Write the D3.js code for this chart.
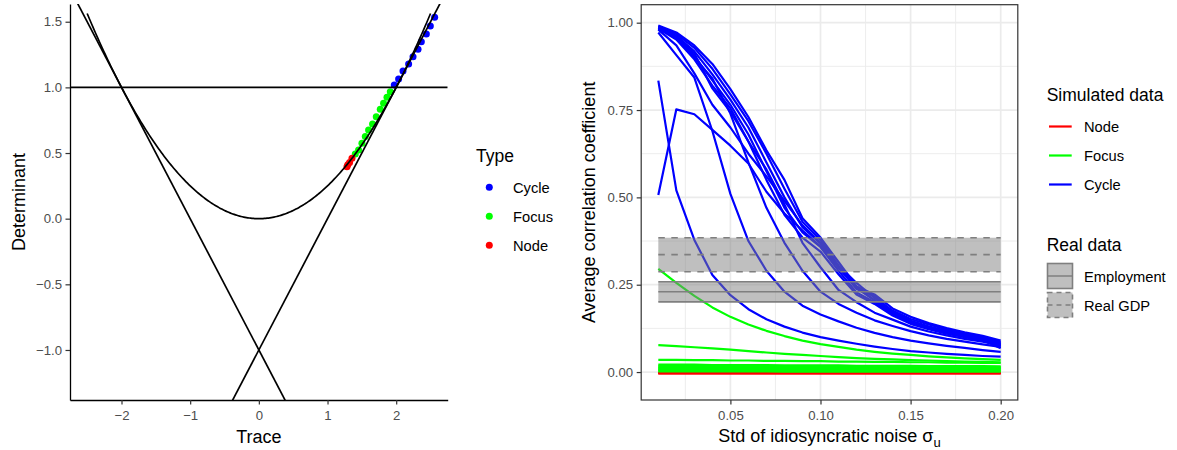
<!DOCTYPE html>
<html><head><meta charset="utf-8">
<script src="https://cdn.jsdelivr.net/npm/d3@7"></script>
<style>
body{margin:0;background:#fff}
svg{display:block}
text{font-family:"Liberation Sans",Arial,Helvetica,sans-serif}
</style>
</head><body>
<svg id="c" width="1177" height="450"></svg>
<script>
// ---------- DATA: left panel ----------
const traceTicks = [-2, -1, 0, 1, 2];
const detTicks = [-1.0, -0.5, 0.0, 0.5, 1.0, 1.5];
const typeLevels = ["Cycle", "Focus", "Node"];
const typeColors = ["#0000FF", "#00FF00", "#FF0000"];
const pointTrace = [2.56, 2.497, 2.439, 2.366, 2.318, 2.245, 2.181, 2.099, 2.035, 1.972,
                    1.914, 1.866, 1.816, 1.768, 1.710, 1.656, 1.598, 1.550, 1.501, 1.452, 1.404,
                    1.356, 1.321, 1.295, 1.283];
const pointDet = [1.534, 1.468, 1.407, 1.348, 1.29, 1.234, 1.178, 1.125, 1.064, 1.018,
                  0.967, 0.924, 0.879, 0.833, 0.777, 0.721, 0.676, 0.625, 0.574, 0.523, 0.493,
                  0.46, 0.427, 0.41, 0.396];
const pointType = ["Cycle","Cycle","Cycle","Cycle","Cycle","Cycle","Cycle","Cycle","Cycle","Cycle",
                   "Focus","Focus","Focus","Focus","Focus","Focus","Focus","Focus","Focus","Focus","Focus",
                   "Node","Node","Node","Node"];
// boundary lines det = slope*trace + intercept
const boundarySlopes = [1, -1, 0];
const boundaryIntercepts = [-1, -1, 1];
const parabolaRange = [-2.5, 2.5];

// ---------- DATA: right panel ----------
const sigmaU = [0.01,0.02,0.03,0.04,0.05,0.06,0.07,0.08,0.09,0.10,0.11,0.12,0.13,0.14,0.15,0.16,0.17,0.18,0.19,0.20];
const xTicksR = [0.05, 0.10, 0.15, 0.20];
const yTicksR = [0.00, 0.25, 0.50, 0.75, 1.00];
const simLevels = ["Node", "Focus", "Cycle"];
const simColors = ["#FF0000", "#00FF00", "#0000FF"];
const nodeLines = [
  [-0.004,-0.004,-0.004,-0.004,-0.004,-0.004,-0.004,-0.004,-0.004,-0.004,-0.004,-0.004,-0.004,-0.004,-0.004,-0.004,-0.004,-0.004,-0.004,-0.004],
  [-0.003,-0.003,-0.003,-0.003,-0.003,-0.003,-0.003,-0.003,-0.003,-0.003,-0.003,-0.003,-0.003,-0.003,-0.003,-0.003,-0.003,-0.003,-0.003,-0.003],
  [-0.002,-0.002,-0.002,-0.002,-0.002,-0.002,-0.002,-0.002,-0.002,-0.002,-0.002,-0.002,-0.002,-0.002,-0.002,-0.002,-0.002,-0.002,-0.002,-0.002],
  [-0.0035,-0.0035,-0.0035,-0.0035,-0.0035,-0.0035,-0.0035,-0.0035,-0.0035,-0.0035,-0.0035,-0.0035,-0.0035,-0.0035,-0.0035,-0.0035,-0.0035,-0.0035,-0.0035,-0.0035]
];
const focusLines = [
  [0.295,0.255,0.218,0.185,0.158,0.136,0.118,0.103,0.090,0.080,0.072,0.064,0.058,0.053,0.049,0.045,0.042,0.039,0.037,0.035],
  [0.077,0.074,0.071,0.068,0.064,0.060,0.056,0.052,0.049,0.046,0.043,0.040,0.038,0.036,0.034,0.033,0.031,0.030,0.029,0.028],
  [0.035,0.035,0.034,0.034,0.033,0.033,0.032,0.032,0.031,0.031,0.030,0.030,0.029,0.029,0.028,0.028,0.027,0.027,0.026,0.026],
  [0.021,0.021,0.021,0.020,0.020,0.020,0.020,0.019,0.019,0.019,0.019,0.018,0.018,0.018,0.018,0.017,0.017,0.017,0.017,0.016],
  [0.018,0.018,0.018,0.017,0.017,0.017,0.016,0.016,0.016,0.016,0.015,0.015,0.015,0.015,0.015,0.014,0.014,0.014,0.014,0.014],
  [0.015,0.015,0.015,0.014,0.014,0.014,0.014,0.013,0.013,0.013,0.013,0.013,0.013,0.012,0.012,0.012,0.012,0.012,0.012,0.012],
  [0.012,0.012,0.012,0.011,0.011,0.011,0.011,0.011,0.011,0.011,0.010,0.010,0.010,0.010,0.010,0.010,0.010,0.010,0.010,0.010],
  [0.009,0.009,0.009,0.009,0.009,0.009,0.008,0.008,0.008,0.008,0.008,0.008,0.008,0.008,0.008,0.008,0.008,0.008,0.008,0.008],
  [0.006,0.006,0.006,0.006,0.006,0.006,0.006,0.005,0.005,0.005,0.005,0.005,0.005,0.005,0.005,0.005,0.005,0.005,0.005,0.005],
  [0.004,0.004,0.004,0.004,0.004,0.004,0.004,0.003,0.003,0.003,0.003,0.003,0.003,0.003,0.003,0.003,0.003,0.003,0.003,0.003],
  [0.002,0.002,0.002,0.002,0.002,0.002,0.002,0.001,0.001,0.001,0.001,0.001,0.001,0.001,0.001,0.001,0.001,0.001,0.001,0.001]
];
const cycleLines = [
  [0.992,0.972,0.935,0.882,0.810,0.730,0.635,0.550,0.440,0.385,0.315,0.245,0.222,0.182,0.158,0.140,0.126,0.114,0.104,0.090],
  [0.990,0.968,0.928,0.868,0.795,0.718,0.625,0.525,0.430,0.378,0.305,0.255,0.212,0.176,0.152,0.136,0.122,0.110,0.100,0.086],
  [0.988,0.963,0.918,0.852,0.780,0.700,0.600,0.500,0.415,0.368,0.300,0.238,0.218,0.172,0.147,0.131,0.118,0.107,0.097,0.082],
  [0.985,0.958,0.905,0.835,0.765,0.680,0.575,0.470,0.400,0.358,0.290,0.228,0.200,0.166,0.143,0.127,0.114,0.103,0.094,0.078],
  [0.983,0.952,0.895,0.820,0.755,0.660,0.550,0.450,0.385,0.345,0.280,0.222,0.195,0.162,0.138,0.123,0.110,0.100,0.090,0.074],
  [0.980,0.935,0.855,0.765,0.700,0.625,0.560,0.490,0.420,0.370,0.300,0.240,0.205,0.170,0.145,0.128,0.114,0.102,0.092,0.068],
  [0.507,0.752,0.738,0.693,0.648,0.597,0.516,0.454,0.405,0.360,0.300,0.245,0.205,0.170,0.145,0.128,0.114,0.103,0.093,0.080],
  [0.834,0.520,0.378,0.278,0.220,0.180,0.151,0.130,0.113,0.100,0.090,0.081,0.073,0.066,0.060,0.056,0.052,0.049,0.046,0.044],
  [0.972,0.907,0.843,0.690,0.510,0.375,0.290,0.230,0.190,0.165,0.145,0.127,0.112,0.100,0.090,0.082,0.075,0.069,0.063,0.058],
  [0.985,0.955,0.900,0.840,0.740,0.600,0.470,0.370,0.290,0.230,0.195,0.170,0.148,0.132,0.117,0.105,0.095,0.087,0.079,0.072],
  [0.985,0.960,0.912,0.812,0.745,0.660,0.580,0.480,0.370,0.300,0.235,0.200,0.170,0.150,0.130,0.116,0.105,0.095,0.087,0.076]
];
const realLevels = ["Employment", "Real GDP"];
const employmentBand = [0.201, 0.230, 0.2585];   // lower, centre, upper
const gdpBand = [0.287, 0.336, 0.3845];
const bandRange = [0.01, 0.20];

// ---------- DRAW ----------
const svg = d3.select("#c");
const defs = svg.append("defs");
const FONT_TICK = 13.2, FONT_TITLE = 18, FONT_LEG = 14.7, FONT_LEGT = 17.5;

function styleAxis(g) {
  g.selectAll(".tick line").attr("stroke", "#333333").attr("stroke-width", 1.2);
  g.selectAll(".tick text").attr("fill", "#4D4D4D").style("font-size", FONT_TICK + "px")
    .style("font-family", '"Liberation Sans",Arial,sans-serif');
}

// ===== Left panel =====
const xL = d3.scaleLinear().domain([-2.75, 2.75]).range([70, 447.7]);
const yL = d3.scaleLinear().domain([-1.381, 1.635]).range([400, 4]);
defs.append("clipPath").attr("id", "clipL").append("rect")
  .attr("x", xL.range()[0]).attr("y", yL.range()[1])
  .attr("width", xL.range()[1] - xL.range()[0]).attr("height", yL.range()[0] - yL.range()[1]);
const gL = svg.append("g");
const plotL = gL.append("g").attr("clip-path", "url(#clipL)");

const colorType = d3.scaleOrdinal().domain(typeLevels).range(typeColors);
const pts = pointTrace.map((t, i) => ({t, d: pointDet[i], type: pointType[i]}));
plotL.selectAll("circle.pt").data(pts).join("circle").attr("class", "pt")
  .attr("cx", d => xL(d.t)).attr("cy", d => yL(d.d)).attr("r", 3.5)
  .attr("fill", d => colorType(d.type));

// parabola det = trace^2/4
const parT = d3.range(parabolaRange[0], parabolaRange[1] + 1e-9, 0.02);
plotL.append("path").datum(parT)
  .attr("d", d3.line().x(t => xL(t)).y(t => yL(t * t / 4)))
  .attr("fill", "none").attr("stroke", "#000").attr("stroke-width", 1.7);
const xd = xL.domain();
boundarySlopes.forEach((s, i) => {
  const b = boundaryIntercepts[i];
  plotL.append("line")
    .attr("x1", xL(xd[0])).attr("y1", yL(s * xd[0] + b))
    .attr("x2", xL(xd[1])).attr("y2", yL(s * xd[1] + b))
    .attr("stroke", "#000").attr("stroke-width", 1.7);
});

const axLx = gL.append("g").attr("transform", `translate(0,${yL.range()[0]})`)
  .call(d3.axisBottom(xL).tickValues(traceTicks).tickFormat(d3.format("d")).tickSize(4.5).tickPadding(6).tickSizeOuter(0));
axLx.select(".domain").attr("stroke", "#000").attr("stroke-width", 1.3);
styleAxis(axLx);
const axLy = gL.append("g").attr("transform", `translate(${xL.range()[0]},0)`)
  .call(d3.axisLeft(yL).tickValues(detTicks).tickFormat(d3.format(".1f")).tickSize(4.5).tickPadding(3.5).tickSizeOuter(0));
axLy.select(".domain").attr("stroke", "#000").attr("stroke-width", 1.3);
styleAxis(axLy);

gL.append("text").attr("x", (xL.range()[0] + xL.range()[1]) / 2).attr("y", 442.5)
  .attr("text-anchor", "middle").style("font-size", FONT_TITLE + "px").text("Trace");
gL.append("text").attr("transform", `translate(25,${(yL.range()[0] + yL.range()[1]) / 2}) rotate(-90)`)
  .attr("text-anchor", "middle").style("font-size", FONT_TITLE + "px").text("Determinant");

// Left legend
const legL = svg.append("g");
legL.append("text").attr("x", 476).attr("y", 162).style("font-size", FONT_LEGT + "px").text("Type");
typeLevels.forEach((lv, i) => {
  const y = 187.3 + i * 29;
  legL.append("circle").attr("cx", 489.3).attr("cy", y).attr("r", 3.5).attr("fill", typeColors[i]);
  legL.append("text").attr("x", 513).attr("y", y).attr("dy", "0.36em")
    .style("font-size", FONT_LEG + "px").text(lv);
});

// ===== Right panel =====
const xR = d3.scaleLinear().domain([0.0005, 0.2095]).range([641.2, 1017.8]);
const yR = d3.scaleLinear().domain([-0.08, 1.0515]).range([400, 4.7]);
defs.append("clipPath").attr("id", "clipR").append("rect")
  .attr("x", xR.range()[0]).attr("y", yR.range()[1])
  .attr("width", xR.range()[1] - xR.range()[0]).attr("height", yR.range()[0] - yR.range()[1]);
const gR = svg.append("g");
const plotR = gR.append("g").attr("clip-path", "url(#clipR)");

// grid
const xMinor = [0.025, 0.075, 0.125, 0.175];
const yMinor = [0.125, 0.375, 0.625, 0.875];
plotR.selectAll("line.xminor").data(xMinor).join("line")
  .attr("x1", d => xR(d)).attr("x2", d => xR(d)).attr("y1", yR.range()[0]).attr("y2", yR.range()[1])
  .attr("stroke", "#EBEBEB").attr("stroke-width", 0.9);
plotR.selectAll("line.yminor").data(yMinor).join("line")
  .attr("y1", d => yR(d)).attr("y2", d => yR(d)).attr("x1", xR.range()[0]).attr("x2", xR.range()[1])
  .attr("stroke", "#EBEBEB").attr("stroke-width", 0.9);
plotR.selectAll("line.xmajor").data(xTicksR).join("line")
  .attr("x1", d => xR(d)).attr("x2", d => xR(d)).attr("y1", yR.range()[0]).attr("y2", yR.range()[1])
  .attr("stroke", "#EBEBEB").attr("stroke-width", 1.7);
plotR.selectAll("line.ymajor").data(yTicksR).join("line")
  .attr("y1", d => yR(d)).attr("y2", d => yR(d)).attr("x1", xR.range()[0]).attr("x2", xR.range()[1])
  .attr("stroke", "#EBEBEB").attr("stroke-width", 1.7);

const lineGen = d3.line().x((v, i) => xR(sigmaU[i])).y(v => yR(v));
const groups = [[nodeLines, simColors[0]], [focusLines, simColors[1]], [cycleLines, simColors[2]]];
groups.forEach(([arr, col]) => {
  arr.forEach(vals => {
    plotR.append("path").datum(vals).attr("d", lineGen)
      .attr("fill", "none").attr("stroke", col).attr("stroke-width", 2.2)
      .attr("stroke-linejoin", "round");
  });
});

// bands
function drawBand(band, dash) {
  plotR.append("rect")
    .attr("x", xR(bandRange[0])).attr("width", xR(bandRange[1]) - xR(bandRange[0]))
    .attr("y", yR(band[2])).attr("height", yR(band[0]) - yR(band[2]))
    .attr("fill", "#7F7F7F").attr("fill-opacity", 0.5);
  [band[0], band[1], band[2]].forEach(v => {
    plotR.append("line").attr("x1", xR(bandRange[0])).attr("x2", xR(bandRange[1]))
      .attr("y1", yR(v)).attr("y2", yR(v))
      .attr("stroke", "#7F7F7F").attr("stroke-width", 1.6)
      .attr("stroke-dasharray", dash ? "6.5,6.5" : null);
  });
}
drawBand(employmentBand, false);
drawBand(gdpBand, true);

// border
gR.append("rect").attr("x", xR.range()[0]).attr("y", yR.range()[1])
  .attr("width", xR.range()[1] - xR.range()[0]).attr("height", yR.range()[0] - yR.range()[1])
  .attr("fill", "none").attr("stroke", "#333333").attr("stroke-width", 1.2);

const axRx = gR.append("g").attr("transform", `translate(0,${yR.range()[0]})`)
  .call(d3.axisBottom(xR).tickValues(xTicksR).tickFormat(d3.format(".2f")).tickSize(4.5).tickPadding(6).tickSizeOuter(0));
axRx.select(".domain").remove();
styleAxis(axRx);
const axRy = gR.append("g").attr("transform", `translate(${xR.range()[0]},0)`)
  .call(d3.axisLeft(yR).tickValues(yTicksR).tickFormat(d3.format(".2f")).tickSize(4.5).tickPadding(3.5).tickSizeOuter(0));
axRy.select(".domain").remove();
styleAxis(axRy);

const xt = gR.append("text").attr("x", (xR.range()[0] + xR.range()[1]) / 2).attr("y", 442)
  .attr("text-anchor", "middle").style("font-size", FONT_TITLE + "px");
xt.append("tspan").text("Std of idiosyncratic noise σ");
xt.append("tspan").attr("dy", 5).style("font-size", "13px").text("u");
gR.append("text").attr("transform", `translate(595,${(yR.range()[0] + yR.range()[1]) / 2}) rotate(-90)`)
  .attr("text-anchor", "middle").style("font-size", FONT_TITLE + "px").text("Average correlation coefficient");

// Right legends
const legR = svg.append("g");
legR.append("text").attr("x", 1046.7).attr("y", 101).style("font-size", FONT_LEGT + "px").text("Simulated data");
simLevels.forEach((lv, i) => {
  const y = 126.5 + i * 29;
  legR.append("line").attr("x1", 1049).attr("x2", 1071.7).attr("y1", y).attr("y2", y)
    .attr("stroke", simColors[i]).attr("stroke-width", 2.2);
  legR.append("text").attr("x", 1084).attr("y", y).attr("dy", "0.36em")
    .style("font-size", FONT_LEG + "px").text(lv);
});
legR.append("text").attr("x", 1046.7).attr("y", 251).style("font-size", FONT_LEGT + "px").text("Real data");
realLevels.forEach((lv, i) => {
  const y0 = 263 + i * 29;
  const dash = i === 1 ? "5,4" : null;
  legR.append("rect").attr("x", 1047.5).attr("y", y0 + 0.5).attr("width", 25).attr("height", 25)
    .attr("fill", "#7F7F7F").attr("fill-opacity", 0.5)
    .attr("stroke", "#7F7F7F").attr("stroke-width", 1.6).attr("stroke-dasharray", dash);
  legR.append("line").attr("x1", 1047.5).attr("x2", 1072.5).attr("y1", y0 + 13).attr("y2", y0 + 13)
    .attr("stroke", "#7F7F7F").attr("stroke-width", 1.5).attr("stroke-dasharray", dash);
  legR.append("text").attr("x", 1084).attr("y", y0 + 13.5).attr("dy", "0.36em")
    .style("font-size", FONT_LEG + "px").text(lv);
});
</script>
</body></html>
